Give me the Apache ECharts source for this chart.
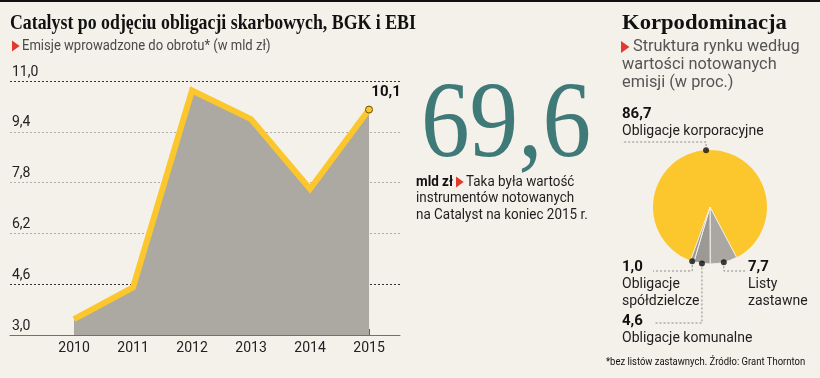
<!DOCTYPE html>
<html>
<head>
<meta charset="utf-8">
<script src="https://cdn.jsdelivr.net/npm/echarts@6/dist/echarts.min.js"></script>
<style>
  html, body { margin: 0; padding: 0; background: #f4f0ea; }
  #chart { width: 820px; height: 378px; }
</style>
</head>
<body>
<div id="chart"></div>
<script>
// emisje wprowadzone do obrotu (mld zl)
const years = [2010, 2011, 2012, 2013, 2014, 2015];
const issues = [3.5, 4.5, 10.7, 9.8, 7.6, 10.1];
const yTicks = [3.0, 4.6, 6.2, 7.8, 9.4, 11.0];

// struktura rynku (proc.)
const segNames = ['Obligacje korporacyjne', 'Listy zastawne', 'Obligacje komunalne', 'Obligacje spółdzielcze'];
const segLabels = ['Obligacje korporacyjne', 'Listy\nzastawne', 'Obligacje komunalne', 'Obligacje\nspółdzielcze'];
const segValues = [86.7, 7.7, 4.6, 1.0];

const totalValue = '69,6';

const SANS = 'Roboto, sans-serif';
const SERIF = '"Liberation Serif", serif';
const YELLOW = '#fcc72d';
const fmt = v => v.toFixed(1).replace('.', ',');

// pie geometry
const pieCenter = [710, 207];
const pieR = 57;
const pieStart = 250;
const segTotal = segValues.reduce((a, b) => a + b, 0);
const segMids = [];
let cum = 0;
segValues.forEach(v => { segMids.push(cum + v / 2); cum += v; });

// where the pie labels go (layout only)
const labelBox = [
  { x: 622, y: 106, elbow: 142, end: 622 },
  { x: 748, y: 259, elbow: 271, end: 745 },
  { x: 622, y: 313, elbow: 323, end: 655 },
  { x: 622, y: 259, elbow: 271, end: 653 }
];

function txt(x, y, text, font, fill, sx) {
  return {
    type: 'text', x: x, y: y, scaleX: sx || 1,
    style: { text: text, font: font, fill: fill, align: 'left', verticalAlign: 'middle',
             textAlign: 'left', textVerticalAlign: 'middle' }
  };
}
function tri(x, y, h) {
  return { type: 'polygon', shape: { points: [[x, y - h / 2], [x + h * 0.7, y], [x, y + h / 2]] },
           style: { fill: '#e23a2e' } };
}

const myChart = echarts.init(document.getElementById('chart'));

const option = {
  backgroundColor: '#f4f0ea',
  animation: false,
  grid: { left: 10, right: 420, top: 81, bottom: 43 },
  xAxis: {
    type: 'value',
    min: 2008.915,
    max: 2015.525,
    splitLine: { show: false },
    axisLine: { lineStyle: { color: '#707070', width: 1 } },
    axisTick: { show: true, inside: true, length: 6, customValues: years, lineStyle: { color: '#606060' } },
    axisLabel: { customValues: years, formatter: v => String(v), color: '#222', fontSize: 14,
                 fontFamily: SANS, margin: 6 }
  },
  yAxis: {
    type: 'value',
    min: yTicks[0],
    max: yTicks[yTicks.length - 1],
    interval: Math.round((yTicks[1] - yTicks[0]) * 10) / 10,
    axisLine: { show: false },
    axisTick: { show: false },
    axisLabel: { inside: true, margin: 2, verticalAlign: 'bottom', padding: [0, 0, 2, 0],
                 formatter: v => fmt(v), color: '#222', fontSize: 14, fontFamily: SANS },
    splitLine: { lineStyle: { type: [2, 2], width: 1,
                 color: ['#777', '#333', '#b3afa9', '#b3afa9', '#b3afa9', '#333'] } }
  },
  polar: { center: pieCenter, radius: pieR },
  angleAxis: { type: 'value', min: 0, max: segTotal, startAngle: pieStart, clockwise: true, show: false,
               axisLine: { show: false }, axisLabel: { show: false }, splitLine: { show: false }, axisTick: { show: false } },
  radiusAxis: { type: 'value', min: 0, max: 1, show: false,
                axisLine: { show: false }, axisLabel: { show: false }, splitLine: { show: false }, axisTick: { show: false } },
  series: [
    {
      name: 'Emisje',
      type: 'line',
      data: years.map((y, i) => {
        const last = i === years.length - 1;
        return {
          value: [y, issues[i]],
          symbol: last ? 'circle' : 'none',
          symbolSize: 7,
          itemStyle: { color: YELLOW, borderColor: '#6a5200', borderWidth: 1 },
          label: last ? { show: true, position: 'top', offset: [17, -1], formatter: p => fmt(p.value[1]),
                          fontSize: 15, fontWeight: 'bold', color: '#111', fontFamily: SANS } : { show: false }
        };
      }),
      lineStyle: { color: YELLOW, width: 6, cap: 'butt', join: 'miter' },
      areaStyle: { color: '#aca8a2', opacity: 1 },
      z: 3
    },
    {
      name: 'Struktura',
      type: 'pie',
      center: pieCenter,
      radius: pieR,
      startAngle: pieStart,
      clockwise: true,
      avoidLabelOverlap: false,
      data: segNames.map((n, i) => ({
        name: n,
        value: segValues[i],
        itemStyle: {
          color: i === 0 ? YELLOW : (i === 1 ? '#aaa6a1' : '#9c9893'),
          borderColor: i === 0 ? YELLOW : '#f4f0ea',
          borderWidth: i === 0 ? 0 : 1
        }
      })),
      label: {
        show: true,
        position: 'outside',
        formatter: p => '{v|' + fmt(segValues[p.dataIndex]) + '}\n{n|' + segLabels[p.dataIndex] + '}',
        rich: {
          v: { fontSize: 15, fontWeight: 'bold', color: '#111', fontFamily: SANS, lineHeight: 17 },
          n: { fontSize: 14, color: '#1e1e1e', fontFamily: SANS, lineHeight: 17 }
        }
      },
      labelLine: { show: true, lineStyle: { type: [2, 2], color: '#8a8a8a', width: 1 } },
      labelLayout: function (params) {
        const i = params.dataIndex;
        const b = labelBox[i];
        const a = (pieStart - segMids[i] / segTotal * 360) * Math.PI / 180;
        const px = pieCenter[0] + pieR * Math.cos(a);
        const py = pieCenter[1] - pieR * Math.sin(a);
        return {
          x: b.x, y: b.y, align: 'left', verticalAlign: 'top',
          labelLinePoints: [[px, py], [px, b.elbow], [b.end, b.elbow]]
        };
      },
      z: 2
    },
    {
      name: 'Punkty',
      type: 'scatter',
      coordinateSystem: 'polar',
      data: segMids.map(m => [1, m]),
      symbolSize: 6,
      itemStyle: { color: '#111' },
      z: 5
    }
  ],
  graphic: [
    { type: 'rect', shape: { x: 0, y: 0, width: 820, height: 2 }, style: { fill: '#111' } },
    txt(10, 23, 'Catalyst po odjęciu obligacji skarbowych, BGK i EBI', 'bold 22px ' + SERIF, '#111', 0.81),
    tri(12, 46, 11),
    txt(22, 46, 'Emisje wprowadzone do obrotu* (w mld zł)', '15px ' + SANS, '#4a4a4a', 0.87),
    txt(421, 128, totalValue, '108px ' + SERIF, '#3f7a78', 0.9),
    txt(416, 182, 'mld zł', 'bold 14px ' + SANS, '#111', 0.96),
    tri(456, 182, 11),
    txt(466, 182, 'Taka była wartość', '14px ' + SANS, '#1e1e1e', 0.96),
    txt(416, 198, 'instrumentów notowanych', '14px ' + SANS, '#1e1e1e', 0.96),
    txt(416, 215, 'na Catalyst na koniec 2015 r.', '14px ' + SANS, '#1e1e1e', 0.96),
    txt(622, 23, 'Korpodominacja', 'bold 22px ' + SERIF, '#111', 1.03),
    tri(621, 47, 12),
    txt(633, 47, 'Struktura rynku według', '16px ' + SANS, '#555', 1.02),
    txt(622, 65, 'wartości notowanych', '16px ' + SANS, '#555', 1.02),
    txt(622, 83, 'emisji (w proc.)', '16px ' + SANS, '#555', 1.02),
    txt(606, 362, '*bez listów zastawnych. Źródło: Grant Thornton', '11px ' + SANS, '#111', 0.86)
  ]
};

myChart.setOption(option);
</script>
</body>
</html>
